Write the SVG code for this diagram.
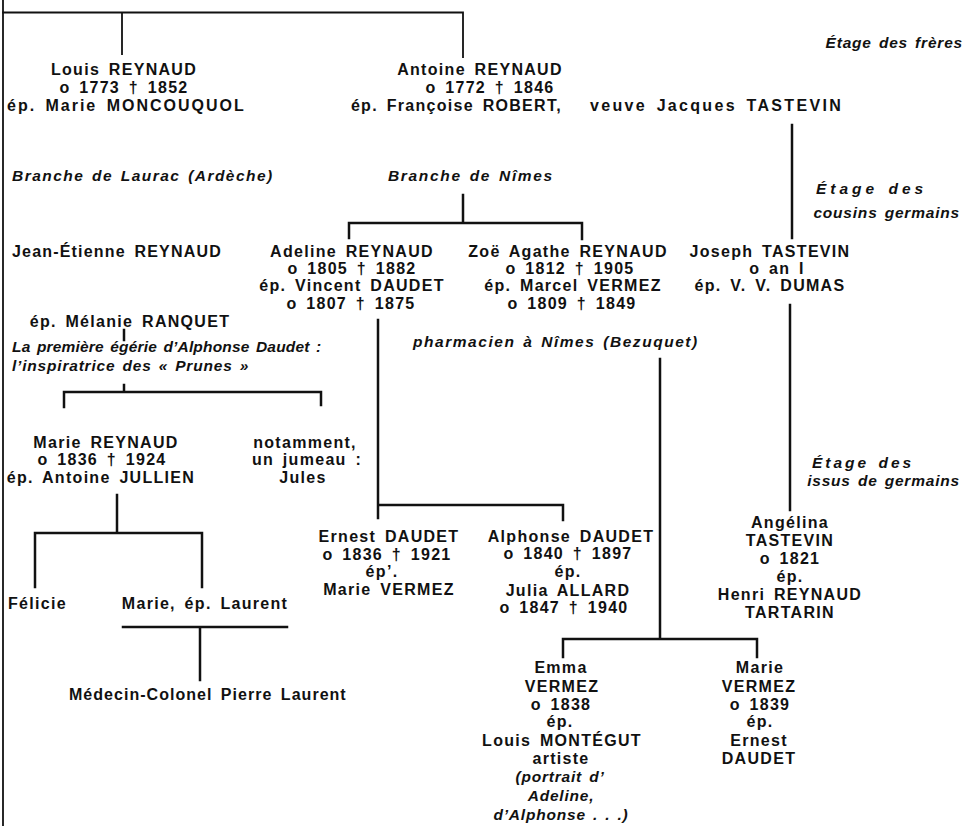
<svg xmlns="http://www.w3.org/2000/svg" width="966" height="826" viewBox="0 0 966 826">
<style>
text{font-family:"Liberation Sans",Arial,sans-serif;font-weight:bold;fill:#111;font-size:16px;letter-spacing:1.3px;word-spacing:3px}
.c{text-anchor:middle}
.e{text-anchor:end}
.i{font-style:italic;font-size:15.5px;letter-spacing:0.8px;word-spacing:2px}
.ln{stroke:#111;stroke-width:2.5;fill:none;stroke-linecap:square}
.thin{stroke-width:1.8}
</style>
<rect width="966" height="826" fill="#fff"/>
<g id="connectors">
<path class="ln thin" d="M3,0V826"/>
<path class="ln thin" d="M3,12.5H463M122,12.5V54M463,12.5V57"/>
<path class="ln" d="M792,125V238"/>
<path class="ln" d="M463,195V223M349,238V223H582V239"/>
<path class="ln" d="M124,330V340M124,385V392M64,407V392H321V405"/>
<path class="ln" d="M378,320V518M378,505H563V520"/>
<path class="ln" d="M660,359V639M563,657V639H757V657"/>
<path class="ln" d="M790,305V510"/>
<path class="ln" d="M117,495V533M35,587V533H202V587"/>
<path class="ln" d="M123,627H287M200,627V680"/>
</g>
<g id="label-etage-freres"><text class="i e" x="963" y="48">Étage des frères</text></g>
<g id="louis">
<text class="c" x="124" y="75">Louis REYNAUD</text>
<text class="c" x="124" y="93">o 1773 † 1852</text>
<text class="c" x="126" y="111" textLength="238">ép. Marie MONCOUQUOL</text>
</g>
<g id="antoine">
<text class="c" x="480" y="75">Antoine REYNAUD</text>
<text class="c" x="490" y="93">o 1772 † 1846</text>
<text class="e" x="562" y="111">ép. Françoise ROBERT,</text>
<text x="590" y="111" textLength="252">veuve Jacques TASTEVIN</text>
</g>
<g id="branche-laurac"><text class="i" x="12" y="181" textLength="261">Branche de Laurac (Ardèche)</text></g>
<g id="branche-nimes"><text class="i" x="388" y="181" textLength="165">Branche de Nîmes</text></g>
<g id="label-etage-cousins">
<text class="i c" x="870" y="194" textLength="108">Étage des</text>
<text class="i e" x="960" y="218">cousins germains</text>
</g>
<g id="jean-etienne">
<text x="12" y="257" textLength="210">Jean-Étienne REYNAUD</text>
<text class="c" x="130" y="327">ép. Mélanie RANQUET</text>
</g>
<g id="adeline">
<text class="c" x="352" y="257">Adeline REYNAUD</text>
<text class="c" x="352" y="274">o 1805 † 1882</text>
<text class="c" x="352" y="291">ép. Vincent DAUDET</text>
<text class="c" x="351" y="309">o 1807 † 1875</text>
</g>
<g id="zoe">
<text class="c" x="568" y="257">Zoë Agathe REYNAUD</text>
<text class="c" x="570" y="274">o 1812 † 1905</text>
<text class="c" x="573" y="291">ép. Marcel VERMEZ</text>
<text class="c" x="572" y="309">o 1809 † 1849</text>
</g>
<g id="joseph">
<text class="c" x="770" y="257">Joseph TASTEVIN</text>
<text class="c" x="777" y="274">o an I</text>
<text class="c" x="770" y="291">ép. V. V. DUMAS</text>
</g>
<g id="label-pharmacien"><text class="i" x="413" y="347" textLength="285">pharmacien à Nîmes (Bezuquet)</text></g>
<g id="label-egerie">
<text class="i" x="12" y="352" textLength="310">La première égérie d’Alphonse Daudet :</text>
<text class="i" x="12" y="371">l’inspiratrice des « Prunes »</text>
</g>
<g id="marie-reynaud">
<text class="c" x="106" y="448">Marie REYNAUD</text>
<text class="c" x="102" y="465">o 1836 † 1924</text>
<text class="c" x="101" y="483">ép. Antoine JULLIEN</text>
</g>
<g id="jules">
<text class="c" x="305" y="448">notamment,</text>
<text class="c" x="307" y="465">un jumeau :</text>
<text class="c" x="303" y="483">Jules</text>
</g>
<g id="label-etage-issus">
<text class="i c" x="862" y="468" textLength="100">Étage des</text>
<text class="i e" x="960" y="486">issus de germains</text>
</g>
<g id="ernest">
<text class="c" x="389" y="542">Ernest DAUDET</text>
<text class="c" x="387" y="560">o 1836 † 1921</text>
<text class="c" x="382" y="577">ép’.</text>
<text class="c" x="389" y="595">Marie VERMEZ</text>
</g>
<g id="alphonse">
<text class="c" x="571" y="542">Alphonse DAUDET</text>
<text class="c" x="568" y="559">o 1840 † 1897</text>
<text class="c" x="568" y="577">ép.</text>
<text class="c" x="568" y="596">Julia ALLARD</text>
<text class="c" x="564" y="613">o 1847 † 1940</text>
</g>
<g id="angelina">
<text class="c" x="790" y="528">Angélina</text>
<text class="c" x="790" y="546">TASTEVIN</text>
<text class="c" x="790" y="564">o 1821</text>
<text class="c" x="790" y="582">ép.</text>
<text class="c" x="790" y="600">Henri REYNAUD</text>
<text class="c" x="790" y="618">TARTARIN</text>
</g>
<g id="felicie"><text x="8" y="609">Félicie</text></g>
<g id="marie-laurent"><text class="c" x="205" y="609">Marie, ép. Laurent</text></g>
<g id="pierre-laurent"><text class="c" x="208" y="700" textLength="278">Médecin-Colonel Pierre Laurent</text></g>
<g id="emma">
<text class="c" x="561" y="673">Emma</text>
<text class="c" x="562" y="692">VERMEZ</text>
<text class="c" x="561" y="710">o 1838</text>
<text class="c" x="560" y="727">ép.</text>
<text class="c" x="562" y="746">Louis MONTÉGUT</text>
<text class="c" x="561" y="764">artiste</text>
<text class="i c" x="560" y="782">(portrait d’</text>
<text class="i c" x="561" y="801">Adeline,</text>
<text class="i c" x="561" y="820">d’Alphonse . . .)</text>
</g>
<g id="marie-vermez">
<text class="c" x="760" y="673">Marie</text>
<text class="c" x="759" y="692">VERMEZ</text>
<text class="c" x="760" y="710">o 1839</text>
<text class="c" x="760" y="727">ép.</text>
<text class="c" x="759" y="746">Ernest</text>
<text class="c" x="759" y="764">DAUDET</text>
</g>
</svg>
